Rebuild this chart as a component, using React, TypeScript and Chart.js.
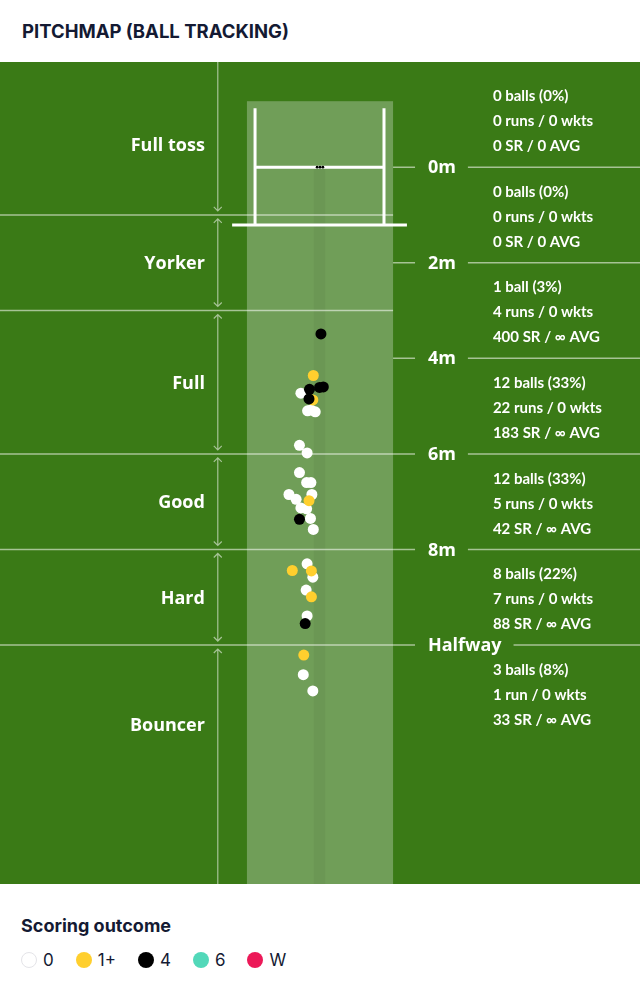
import React, { useEffect, useRef } from "react";
import { Chart, registerables } from "chart.js";
Chart.register(...registerables);

// Scoring outcomes (legend)
const outcomeLabels = ["0", "1+", "4", "6", "W"];
const outcomeColors = ["#ffffff", "#ffcf2e", "#000000", "#52d8b9", "#ec1958"];

// Ball landing positions: lateral metres from middle stump, length metres from popping crease
const dotBallX = [-0.40, -0.26, -0.19, -0.10, -0.43, -0.27, -0.43, -0.28, -0.19, -0.65, -0.50, -0.17, -0.40, -0.28, -0.20, -0.14, -0.27, -0.15, -0.29, -0.27, -0.35, -0.15];
const dotBallY = [4.73, 5.10, 5.08, 5.12, 5.82, 5.98, 6.39, 6.60, 6.60, 6.85, 6.95, 6.85, 7.13, 7.15, 7.35, 7.58, 8.30, 8.58, 8.85, 9.39, 10.62, 10.96];
const runsX = [-0.14, -0.15, -0.23, -0.58, -0.18, -0.18, -0.34];
const runsY = [4.36, 4.87, 6.98, 8.44, 8.45, 8.99, 10.21];
const fourX = [0.02, -0.22, -0.01, 0.07, -0.23, -0.43, -0.31];
const fourY = [3.49, 4.65, 4.61, 4.60, 4.85, 7.37, 9.55];
const sixX: number[] = [];
const sixY: number[] = [];
const wicketX: number[] = [];
const wicketY: number[] = [];

// Length regions (left)
const regionNames = ["Full toss", "Yorker", "Full", "Good", "Hard", "Bouncer"];
const regionLabelY = [-0.48, 2, 4.5, 7, 9, 11.65];
const regionBounds = [1, 3, 6, 8, 10];

// Distance markers (right)
const distanceTicks = [0, 2, 4, 6, 8, 10];
const distanceLabels = ["0m", "2m", "4m", "6m", "8m", "Halfway"];

// Stats per 2m band
const statBandY = [-1, 1, 3, 5, 7, 9, 11];
const statBalls = ["0 balls (0%)", "0 balls (0%)", "1 ball (3%)", "12 balls (33%)", "12 balls (33%)", "8 balls (22%)", "3 balls (8%)"];
const statRuns = ["0 runs / 0 wkts", "0 runs / 0 wkts", "4 runs / 0 wkts", "22 runs / 0 wkts", "5 runs / 0 wkts", "7 runs / 0 wkts", "1 run / 0 wkts"];
const statRates = ["0 SR / 0 AVG", "0 SR / 0 AVG", "400 SR / ∞ AVG", "183 SR / ∞ AVG", "42 SR / ∞ AVG", "88 SR / ∞ AVG", "33 SR / ∞ AVG"];

const GREEN = "#3a7a16";
const PITCH = "#709e58";
const LINE = "rgba(255,255,255,0.55)";
const FONT = "'Open Sans', sans-serif";
const STAT_FONT = "Lato, 'Open Sans', sans-serif";
const INK = "#141a33";

const pitchPlugin = {
  id: "pitch",
  beforeDatasetsDraw(chart: any) {
    const { ctx, chartArea: a, scales } = chart;
    const X = (v: number) => scales.x.getPixelForValue(v);
    const Y = (v: number) => scales.y.getPixelForValue(v);
    ctx.save();
    ctx.fillStyle = GREEN;
    ctx.fillRect(a.left, a.top, a.right - a.left, a.bottom - a.top);
    // pitch strip
    ctx.fillStyle = PITCH;
    ctx.fillRect(X(-1.53), Y(-1.38), X(1.53) - X(-1.53), a.bottom - Y(-1.38));
    ctx.fillStyle = "rgba(0,0,0,0.045)";
    ctx.fillRect(X(-0.13), Y(0), X(0.11) - X(-0.13), a.bottom - Y(0));

    // region boundaries (left)
    ctx.strokeStyle = LINE;
    ctx.lineWidth = 1.5;
    regionBounds.forEach((b) => {
      ctx.beginPath();
      ctx.moveTo(a.left, Y(b));
      ctx.lineTo(X(1.53), Y(b));
      ctx.stroke();
    });

    // vertical arrows
    const ax = X(-2.14);
    const edges = [scales.y.min, ...regionBounds, scales.y.max];
    ctx.lineWidth = 1.2;
    for (let i = 0; i < edges.length - 1; i++) {
      const topEdge = i > 0;
      const botEdge = i < edges.length - 2;
      const y1 = topEdge ? Y(edges[i]) + 4 : a.top;
      const y2 = botEdge ? Y(edges[i + 1]) - 4 : a.bottom;
      ctx.beginPath();
      ctx.moveTo(ax, y1);
      ctx.lineTo(ax, y2);
      if (topEdge) {
        ctx.moveTo(ax - 4, y1 + 4);
        ctx.lineTo(ax, y1);
        ctx.lineTo(ax + 4, y1 + 4);
      }
      if (botEdge) {
        ctx.moveTo(ax - 4, y2 - 4);
        ctx.lineTo(ax, y2);
        ctx.lineTo(ax + 4, y2 - 4);
      }
      ctx.stroke();
    }

    // stumps & creases
    ctx.strokeStyle = "#ffffff";
    ctx.lineWidth = 3;
    ctx.beginPath();
    ctx.moveTo(X(-1.36), Y(-1.23));
    ctx.lineTo(X(-1.36), Y(1.21));
    ctx.moveTo(X(1.34), Y(-1.23));
    ctx.lineTo(X(1.34), Y(1.21));
    ctx.moveTo(X(-1.36), Y(0));
    ctx.lineTo(X(1.34), Y(0));
    ctx.moveTo(X(-1.84), Y(1.21));
    ctx.lineTo(X(1.82), Y(1.21));
    ctx.stroke();
    ctx.fillStyle = "#000";
    [-0.06, 0, 0.06].forEach((s) => {
      ctx.beginPath();
      ctx.arc(X(s), Y(0), 1.4, 0, Math.PI * 2);
      ctx.fill();
    });

    // distance markers
    ctx.font = `bold 18px ${FONT}`;
    ctx.textBaseline = "middle";
    ctx.textAlign = "left";
    distanceTicks.forEach((d, i) => {
      const py = Y(d);
      const tx = X(2.26);
      const w = ctx.measureText(distanceLabels[i]).width;
      ctx.strokeStyle = LINE;
      ctx.lineWidth = 1.5;
      ctx.beginPath();
      ctx.moveTo(X(1.53), py);
      ctx.lineTo(X(1.99), py);
      ctx.moveTo(tx + w + 12, py);
      ctx.lineTo(a.right, py);
      ctx.stroke();
      ctx.fillStyle = "#ffffff";
      ctx.fillText(distanceLabels[i], tx, py + 1);
    });

    // region labels
    ctx.textAlign = "right";
    regionNames.forEach((n, i) => {
      ctx.fillText(n, X(-2.41), Y(regionLabelY[i]) + 1.5);
    });

    // stats
    ctx.font = `bold 15px ${STAT_FONT}`;
    ctx.textAlign = "left";
    statBandY.forEach((b, i) => {
      const py = Y(b) + 2;
      const sx = X(3.62);
      ctx.fillText(statBalls[i], sx, py - 25);
      ctx.fillText(statRuns[i], sx, py);
      ctx.fillText(statRates[i], sx, py + 25);
    });
    ctx.restore();
  },
};

const pts = (xs: number[], ys: number[]) => xs.map((v, i) => ({ x: v, y: ys[i] }));

export default function App() {
  const ref = useRef<HTMLCanvasElement>(null);
  useEffect(() => {
    if (!ref.current) return;
    const mk = (idx: number, xs: number[], ys: number[]) => ({
      label: outcomeLabels[idx],
      data: pts(xs, ys),
      backgroundColor: outcomeColors[idx],
      borderWidth: 0,
      pointRadius: 5.5,
      pointHoverRadius: 5.5,
    });
    const chart = new Chart(ref.current, {
      type: "scatter",
      data: {
        datasets: [
          mk(4, wicketX, wicketY),
          mk(3, sixX, sixY),
          mk(2, fourX, fourY),
          mk(1, runsX, runsY),
          mk(0, dotBallX, dotBallY),
        ],
      },
      options: {
        responsive: false,
        maintainAspectRatio: false,
        animation: false,
        events: [],
        layout: { padding: 0, autoPadding: false },
        plugins: { legend: { display: false }, tooltip: { enabled: false } },
        scales: {
          x: { type: "linear", min: -6.7, max: 6.7, display: false },
          y: { type: "linear", min: -2.2, max: 15, reverse: true, display: false },
        },
      },
      plugins: [pitchPlugin],
    });
    return () => chart.destroy();
  }, []);

  return (
    <div style={{ position: "absolute", left: 0, top: 0, width: 640, height: 1001, background: "#fff", fontFamily: "Inter, sans-serif", color: INK }}>
      <div style={{ position: "absolute", left: 22, top: 19, lineHeight: "24px", fontSize: 18.5, fontWeight: 700 }}>
        PITCHMAP (BALL TRACKING)
      </div>
      <canvas ref={ref} width={640} height={822} style={{ position: "absolute", left: 0, top: 62, width: 640, height: 822 }} />
      <div style={{ position: "absolute", left: 21, top: 914, lineHeight: "24px", fontSize: 18, fontWeight: 700 }}>
        Scoring outcome
      </div>
      <div style={{ position: "absolute", left: 21, top: 950, height: 20, display: "flex", alignItems: "center", fontSize: 17 }}>
        {outcomeLabels.map((l, i) => (
          <div key={l} style={{ display: "flex", alignItems: "center", marginRight: 22 }}>
            <span
              style={{
                width: 16,
                height: 16,
                borderRadius: "50%",
                boxSizing: "border-box",
                background: outcomeColors[i],
                border: i === 0 ? "1px solid #e4e4e8" : "none",
                marginRight: 6,
                display: "inline-block",
              }}
            />
            <span>{l}</span>
          </div>
        ))}
      </div>
    </div>
  );
}
